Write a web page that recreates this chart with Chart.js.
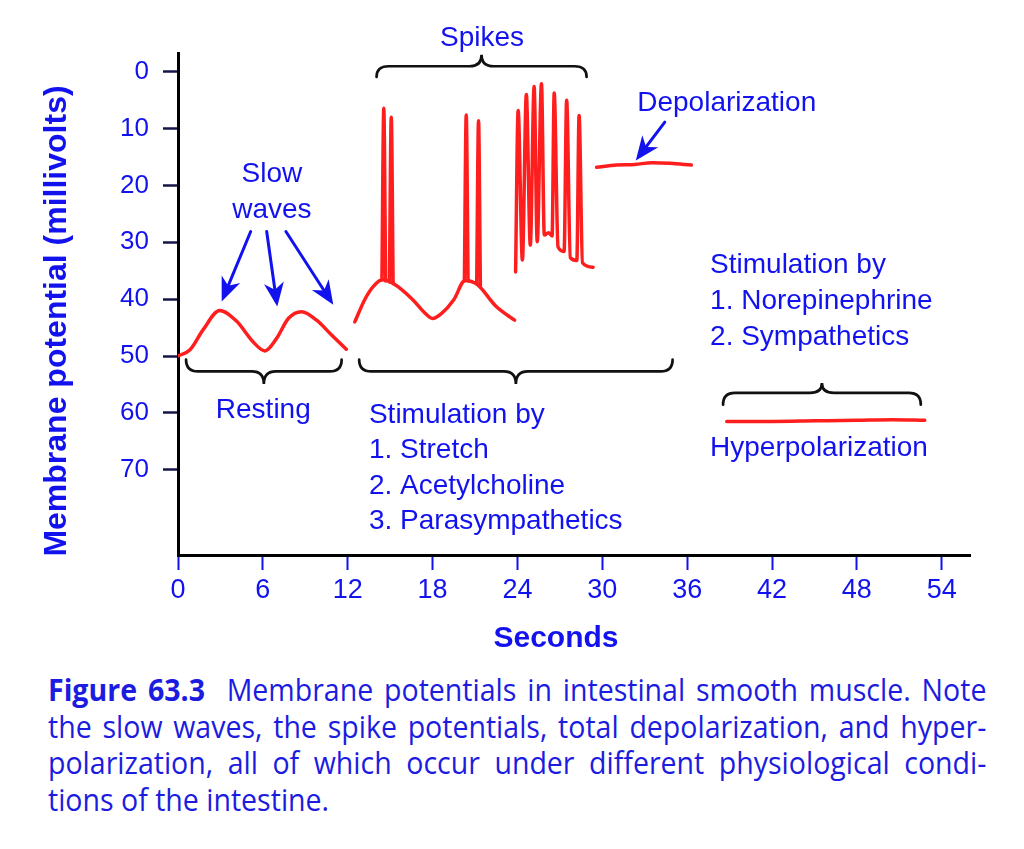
<!DOCTYPE html>
<html>
<head>
<meta charset="utf-8">
<script src="https://cdn.jsdelivr.net/npm/chart.js@4.4.1/dist/chart.umd.min.js"></script>
<style>
    body { margin: 0; background: #fff; }
    #wrap { position: relative; width: 1024px; height: 849px; overflow: hidden; }
    #chart { position: absolute; left: 0; top: 0; }
    #caption {
        position: absolute; left: 48px; top: 671px; width: 1020px;
        transform: scaleX(0.92); transform-origin: 0 0;
        font-family: "Open Sans", sans-serif; font-size: 31px; line-height: 36.5px;
        color: #1c1ce0;
    }
    #caption .ln { text-align: justify; text-align-last: justify; white-space: nowrap; }
    #caption .ln.last { text-align: left; text-align-last: left; }
</style>
</head>
<body>
<div id="wrap">
    <canvas id="chart" width="1024" height="660"></canvas>
    <div id="caption">
        <div class="ln"><b>Figure 63.3</b>&nbsp; Membrane potentials in intestinal smooth muscle. Note</div>
        <div class="ln">the slow waves, the spike potentials, total depolarization, and hyper-</div>
        <div class="ln">polarization, all of which occur under different physiological condi-</div>
        <div class="ln last">tions of the intestine.</div>
    </div>
</div>
<script>
// Axis ticks
const secondTicks = [0, 6, 12, 18, 24, 30, 36, 42, 48, 54];
const mvTicks = [0, 10, 20, 30, 40, 50, 60, 70];

// Traces (seconds / millivolts)
const restingTime = [0, 0.85, 1.77, 2.95, 4.15, 5.3, 6.15, 6.97, 7.8, 8.74, 9.8, 10.86, 11.9];
const restingMv   = [50, 48.9, 45.4, 42.0, 43.9, 47.5, 49.1, 46.9, 43.4, 42.2, 43.7, 46.3, 48.8];

// slow wave under stimulation (spikes drawn on top of it)
const stimWaveTime = [12.5, 13.2, 13.8, 14.45, 15.25, 16.6, 17.4, 18.0, 18.6, 19.5, 20.3, 21.15, 22.5, 23.8];
const stimWaveMv   = [44.0, 40.1, 37.8, 36.6, 37.3, 40.1, 42.3, 43.4, 42.6, 40.1, 36.7, 37.4, 41.3, 43.7];

// single spikes: rise, tip, fall
const spikeTime = [[14.42, 14.55, 14.68], [14.95, 15.08, 15.21], [20.25, 20.38, 20.51], [21.12, 21.25, 21.38]];
const spikeMv   = [[36.6, 6.4, 36.8], [37.0, 8.0, 37.3], [36.8, 7.6, 36.8], [37.3, 8.6, 37.6]];

const burstTime = [23.87, 24.05, 24.35, 24.63, 24.91, 25.18, 25.4, 25.7, 25.9, 26.2, 26.45, 26.6, 26.87, 27.3, 27.48, 27.74, 28.2, 28.36, 28.6, 29.35];
const burstMv   = [35.2, 6.8, 33.1, 4.0, 30.5, 2.6, 29.9, 2.1, 28.7, 28.3, 28.9, 3.75, 30.8, 31.6, 5.0, 32.7, 33.2, 7.7, 33.6, 34.4];

const depolTime = [29.6, 31.0, 32.3, 33.5, 34.8, 36.3];
const depolMv   = [16.8, 16.4, 16.3, 16.0, 16.1, 16.4];

const hyperTime = [38.8, 42.0, 45.0, 48.0, 50.5, 52.8];
const hyperMv   = [61.5, 61.5, 61.4, 61.3, 61.2, 61.3];

const BLUE = '#1212ee';
const RED = '#ff1e1e';
const FONT = '"Liberation Sans", Arial, sans-serif';

function trace(times, values) {
    return {
        data: times.map((t, i) => ({ x: t, y: values[i] })),
        borderColor: RED,
        borderWidth: 3.5,
        pointRadius: 0,
        fill: false,
        cubicInterpolationMode: 'monotone',
        borderCapStyle: 'round',
        borderJoinStyle: 'round'
    };
}

// curly brace between x1 and x2, ends at tipY, bar at lineY, point at cuspY
function brace(ctx, x1, x2, tipY, lineY, cuspY) {
    const cx = (x1 + x2) / 2;
    const r = 12;
    ctx.beginPath();
    ctx.moveTo(x1, tipY);
    ctx.quadraticCurveTo(x1, lineY, x1 + r, lineY);
    ctx.lineTo(cx - r, lineY);
    ctx.quadraticCurveTo(cx, lineY, cx, cuspY);
    ctx.quadraticCurveTo(cx, lineY, cx + r, lineY);
    ctx.lineTo(x2 - r, lineY);
    ctx.quadraticCurveTo(x2, lineY, x2, tipY);
    ctx.stroke();
}

function arrow(ctx, x1, y1, x2, y2) {
    const ang = Math.atan2(y2 - y1, x2 - x1);
    const len = 24, half = 10;
    const bx = x2 - Math.cos(ang) * len, by = y2 - Math.sin(ang) * len;
    ctx.beginPath();
    ctx.moveTo(x1, y1);
    ctx.lineTo(x2 - Math.cos(ang) * 12, y2 - Math.sin(ang) * 12);
    ctx.stroke();
    ctx.beginPath();
    ctx.moveTo(x2, y2);
    ctx.lineTo(bx - Math.sin(ang) * half, by + Math.cos(ang) * half);
    ctx.lineTo(x2 - Math.cos(ang) * (len - 7), y2 - Math.sin(ang) * (len - 7));
    ctx.lineTo(bx + Math.sin(ang) * half, by - Math.cos(ang) * half);
    ctx.closePath();
    ctx.fill();
}

const annotations = {
    id: 'annotations',
    afterDraw(chart) {
        const ctx = chart.ctx;
        const px = v => chart.scales.x.getPixelForValue(v);
        const py = v => chart.scales.y.getPixelForValue(v);
        ctx.save();

        // axis titles
        ctx.fillStyle = BLUE;
        ctx.font = 'bold 32px ' + FONT;
        ctx.textAlign = 'center';
        ctx.textBaseline = 'middle';
        ctx.save();
        ctx.translate(57, 321);
        ctx.rotate(-Math.PI / 2);
        ctx.fillText('Membrane potential (millivolts)', 0, 0);
        ctx.restore();
        ctx.font = 'bold 30px ' + FONT;
        ctx.fillText('Seconds', 556, 639);

        // braces
        ctx.strokeStyle = '#111';
        ctx.lineWidth = 2.7;
        ctx.lineCap = 'round';
        brace(ctx, px(14.04), px(28.89), py(0.9), py(-0.97), py(-3.0));
        brace(ctx, px(0.57), px(11.57), py(50.65), py(52.7), py(54.9));
        brace(ctx, px(12.81), px(34.97), py(50.65), py(52.7), py(54.9));
        brace(ctx, px(38.54), px(52.52), py(58.57), py(56.5), py(54.75));

        // arrows
        ctx.strokeStyle = BLUE;
        ctx.fillStyle = BLUE;
        ctx.lineWidth = 3;
        arrow(ctx, px(5.14), py(28.1), px(3.09), py(40.4));
        arrow(ctx, px(6.27), py(28.1), px(7.02), py(41.3));
        arrow(ctx, px(7.63), py(28.1), px(10.98), py(41.0));
        arrow(ctx, px(34.42), py(8.85), px(32.37), py(15.6));

        // labels
        ctx.font = '28px ' + FONT;
        ctx.textBaseline = 'alphabetic';
        ctx.textAlign = 'center';
        ctx.fillText('Spikes', px(21.5), py(-6.3) + 10);
        ctx.fillText('Slow', px(6.64), py(17.6) + 10);
        ctx.fillText('waves', px(6.64), py(23.9) + 10);
        ctx.fillText('Resting', px(6.03), py(60.9));

        ctx.textAlign = 'left';
        ctx.fillText('Depolarization', px(32.47), py(6.98));
        const leftLines = ['Stimulation by', '1. Stretch', '2. Acetylcholine', '3. Parasympathetics'];
        const leftBase = [61.8, 67.9, 74.2, 80.4];
        leftLines.forEach((t, i) => ctx.fillText(t, px(13.5), py(leftBase[i])));
        const rightLines = ['Stimulation by', '1. Norepinephrine', '2. Sympathetics'];
        const rightBase = [35.4, 41.7, 48.0];
        rightLines.forEach((t, i) => ctx.fillText(t, px(37.62), py(rightBase[i])));
        ctx.fillText('Hyperpolarization', px(37.62), py(67.65));

        ctx.restore();
    }
};

document.addEventListener('DOMContentLoaded', function() {
    const ctx = document.getElementById('chart').getContext('2d');
    const datasets = [
        trace(restingTime, restingMv),
        trace(stimWaveTime, stimWaveMv),
        trace(burstTime, burstMv),
        trace(depolTime, depolMv),
        trace(hyperTime, hyperMv)
    ];
    spikeTime.forEach((t, i) => datasets.push(trace(t, spikeMv[i])));

    new Chart(ctx, {
        type: 'line',
        data: { datasets: datasets },
        options: {
            responsive: false,
            animation: false,
            layout: { padding: { top: 53, right: 54, left: 0, bottom: 0 } },
            plugins: {
                legend: { display: false },
                tooltip: { enabled: false }
            },
            scales: {
                x: {
                    type: 'linear',
                    min: 0,
                    max: 56,
                    afterBuildTicks: s => { s.ticks = secondTicks.map(v => ({ value: v })); },
                    afterFit: s => { s.height = 105; },
                    grid: { drawOnChartArea: false, tickLength: 15, tickColor: BLUE, tickWidth: 2 },
                    border: { color: '#000', width: 3 },
                    ticks: {
                        color: BLUE,
                        font: { family: FONT, size: 27 },
                        padding: 4,
                        maxRotation: 0,
                        autoSkip: false
                    }
                },
                y: {
                    type: 'linear',
                    reverse: true,
                    min: -3.3,
                    max: 85,
                    afterBuildTicks: s => { s.ticks = mvTicks.map(v => ({ value: v })); },
                    afterFit: s => { s.width = 178; },
                    grid: { drawOnChartArea: false, tickLength: 15, tickColor: '#15154a', tickWidth: 2.5 },
                    border: { color: '#000', width: 3 },
                    ticks: {
                        color: BLUE,
                        font: { family: FONT, size: 26 },
                        padding: 14,
                        autoSkip: false
                    }
                }
            }
        },
        plugins: [annotations]
    });
});
</script>
</body>
</html>
